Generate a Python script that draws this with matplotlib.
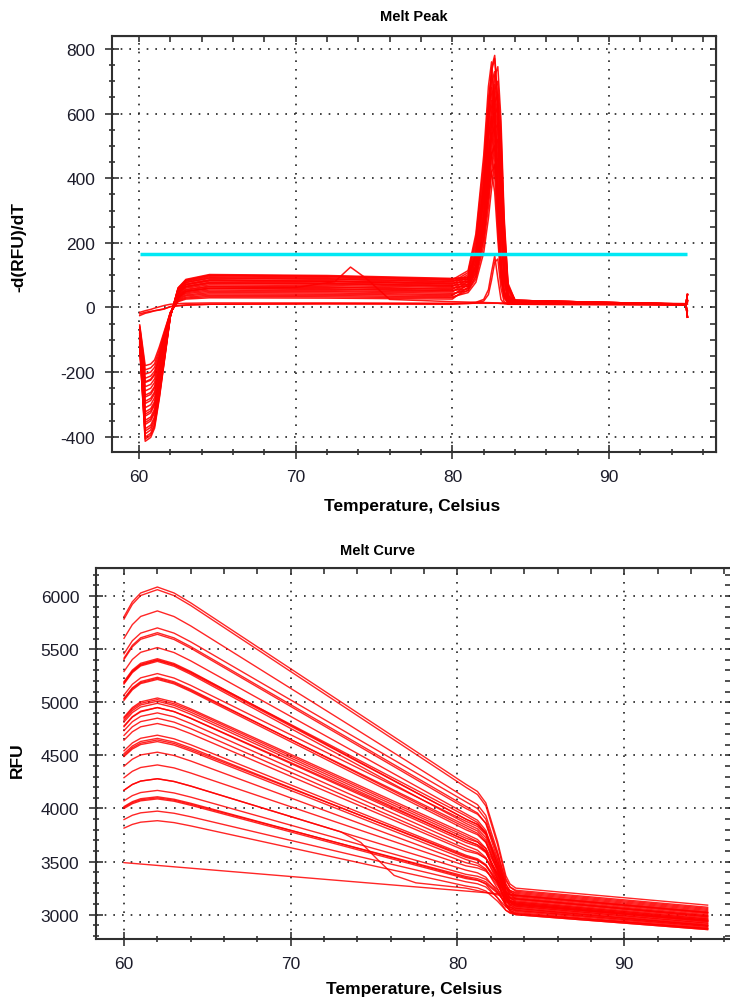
import matplotlib
matplotlib.use("Agg")
import matplotlib.pyplot as plt
from matplotlib.ticker import MultipleLocator

plt.rcParams['font.family'] = ['Liberation Sans', 'DejaVu Sans']
plt.rcParams['axes.unicode_minus'] = False

# Melt peak: -d(RFU)/dT for each well, sampled at these temperatures
peak_temps = [60.05, 60.4, 60.75, 61.0, 61.3, 61.6, 62.0, 62.5, 63.0, 64.5, 72.0, 80.0,
              81.0, 81.5, 82.0, 82.3, 82.5, 82.7, 82.9, 83.1, 83.3, 83.55, 84.0, 94.9, 95.0]
peak_wells = [
    [-124, -414, -402, -373, -282, -174, -30, 61, 87, 102, 99, 90, 94, 172, 382, 608, 741, 780, 640, 374, 133, 39, 18, 10, 40],
    [-122, -407, -395, -366, -277, -171, -29, 60, 85, 100, 97, 88, 92, 169, 377, 601, 732, 770, 631, 370, 131, 39, 18, 10, -30],
    [-120, -401, -389, -361, -273, -168, -28, 59, 83, 98, 95, 86, 114, 228, 471, 684, 760, 646, 380, 152, 53, 23, 14, 9, 20],
    [-117, -391, -379, -352, -266, -164, -28, 57, 81, 95, 92, 84, 88, 127, 276, 447, 596, 715, 745, 581, 283, 75, 22, 10, 40],
    [-115, -382, -371, -344, -260, -160, -28, 55, 78, 92, 89, 81, 88, 161, 358, 569, 694, 730, 599, 350, 124, 37, 18, 11, -30],
    [-113, -375, -364, -338, -255, -158, -27, 54, 77, 90, 87, 79, 108, 216, 446, 648, 720, 612, 360, 144, 50, 22, 14, 9, 20],
    [-109, -362, -351, -326, -246, -152, -26, 52, 73, 86, 83, 76, 80, 119, 259, 420, 560, 672, 700, 546, 266, 70, 22, 10, 40],
    [-107, -356, -345, -320, -242, -150, -26, 50, 71, 84, 81, 74, 83, 152, 338, 538, 656, 690, 566, 331, 117, 35, 18, 12, -30],
    [-105, -349, -339, -314, -237, -147, -26, 49, 70, 82, 80, 72, 102, 204, 422, 612, 680, 578, 340, 136, 48, 20, 14, 8, 20],
    [-101, -336, -326, -302, -228, -141, -24, 47, 66, 78, 76, 69, 72, 112, 244, 396, 528, 634, 660, 515, 251, 66, 22, 10, 40],
    [-99, -330, -320, -297, -224, -139, -25, 46, 65, 76, 74, 67, 78, 143, 319, 507, 618, 650, 533, 312, 111, 33, 18, 11, -30],
    [-97, -323, -313, -291, -220, -136, -24, 44, 63, 74, 72, 65, 96, 192, 397, 576, 640, 544, 320, 128, 45, 19, 14, 9, 20],
    [-93, -310, -301, -279, -211, -130, -23, 42, 60, 70, 68, 62, 66, 105, 229, 372, 496, 595, 620, 484, 236, 62, 22, 10, 40],
    [-89, -297, -288, -267, -202, -125, -23, 40, 56, 66, 64, 58, 72, 132, 294, 468, 570, 600, 492, 288, 102, 30, 18, 11, -30],
    [-87, -290, -281, -261, -197, -122, -22, 38, 54, 64, 62, 56, 89, 177, 366, 531, 590, 502, 295, 118, 41, 18, 14, 9, 20],
    [-83, -277, -269, -249, -188, -116, -21, 36, 51, 60, 58, 53, 57, 97, 211, 342, 456, 547, 570, 445, 217, 57, 22, 10, 40],
    [-81, -271, -263, -244, -184, -114, -21, 35, 49, 58, 56, 51, 67, 123, 274, 437, 532, 560, 459, 269, 95, 28, 18, 11, -30],
    [-77, -258, -250, -232, -175, -108, -20, 32, 46, 54, 52, 48, 81, 162, 335, 486, 540, 459, 270, 108, 38, 16, 14, 9, 20],
    [-74, -245, -238, -221, -167, -103, -19, 30, 43, 50, 49, 44, 52, 88, 192, 312, 416, 499, 520, 406, 198, 52, 22, 10, 40],
    [-70, -232, -225, -209, -158, -97, -19, 28, 39, 46, 45, 40, 60, 110, 245, 390, 475, 500, 410, 240, 85, 25, 18, 11, -30],
    [-66, -219, -212, -197, -149, -92, -18, 25, 36, 42, 41, 37, 72, 144, 298, 432, 480, 408, 240, 96, 34, 14, 14, 9, 20],
    [-62, -206, -200, -185, -140, -87, -17, 23, 32, 38, 37, 33, 46, 78, 170, 276, 368, 442, 460, 359, 175, 46, 22, 10, 40],
    [-58, -193, -187, -174, -131, -81, -16, 20, 29, 34, 33, 30, 53, 97, 216, 343, 418, 440, 361, 211, 75, 22, 18, 11, -30],
    [-54, -180, -175, -162, -122, -76, -16, 18, 26, 30, 29, 26, 63, 126, 260, 378, 420, 357, 210, 84, 29, 13, 14, 9, 20],
    [-20, -15, -12, -10, -8, -5, 3, 6, 8, 10, 12, 12, 14, 16, 25, 55, 110, 160, 90, 25, 12, 10, 10, 8, 15],
    [-25, -18, -14, -10, -7, -4, 2, 5, 7, 10, 11, 10, 12, 14, 20, 40, 85, 140, 150, 60, 18, 10, 10, 8, -10],
    [-15, -10, -6, -2, 2, 6, 10, 12, 13, 14, 14, 13, 13, 13, 13, 13, 13, 13, 13, 12, 12, 12, 11, 10, 25],
]
# well that melts early (bump near 73.5 C)
peak_early_temps = [60.05, 60.4, 60.75, 61.0, 61.3, 61.6, 62.0, 62.5, 63.0, 64.5, 70.0,
                    72.5, 73.5, 74.5, 76.0, 80.0, 83.0, 95.0]
peak_early = [-80, -230, -222, -205, -155, -95, -15, 30, 50, 60, 62, 80, 125, 90, 25, 18, 14, 10]
threshold = 165

# Melt curve: RFU for each well
curve_temps = [60, 60.5, 61, 62, 63, 64, 80.5, 81.2, 81.7, 82.4, 82.9, 83.15, 83.5, 95]
curve_wells = [
    [5806, 5946, 6029, 6085, 6029, 5936, 4228, 4160, 4052, 3690, 3367, 3289, 3250, 3090],
    [5783, 5922, 6005, 6060, 6004, 5911, 4200, 4131, 4024, 3661, 3338, 3259, 3220, 3060],
    [5602, 5731, 5808, 5860, 5807, 5719, 4100, 4036, 3934, 3594, 3290, 3217, 3180, 3020],
    [5457, 5579, 5651, 5700, 5651, 5569, 4063, 3999, 3899, 3561, 3260, 3187, 3150, 2990],
    [5416, 5536, 5607, 5655, 5606, 5524, 4020, 3957, 3858, 3525, 3228, 3156, 3120, 2960],
    [5403, 5522, 5593, 5640, 5591, 5509, 4000, 3946, 3861, 3576, 3322, 3261, 3230, 3070],
    [5290, 5403, 5470, 5515, 5468, 5390, 3950, 3889, 3793, 3471, 3184, 3115, 3080, 2920],
    [5195, 5303, 5367, 5410, 5365, 5290, 3900, 3851, 3774, 3515, 3284, 3228, 3200, 3040],
    [5186, 5293, 5357, 5400, 5356, 5283, 3930, 3868, 3770, 3440, 3147, 3076, 3040, 2890],
    [5172, 5279, 5342, 5385, 5339, 5263, 3860, 3808, 3725, 3447, 3200, 3140, 3110, 2950],
    [5068, 5169, 5230, 5270, 5228, 5159, 3880, 3830, 3752, 3489, 3255, 3198, 3170, 3010],
    [5036, 5136, 5195, 5235, 5193, 5122, 3820, 3767, 3683, 3402, 3151, 3090, 3060, 2900],
    [5018, 5117, 5176, 5215, 5173, 5102, 3800, 3753, 3679, 3431, 3210, 3157, 3130, 2970],
    [4860, 4950, 5004, 5040, 5002, 4938, 3760, 3708, 3625, 3347, 3100, 3040, 3010, 2870],
    [4833, 4922, 4975, 5010, 4971, 4907, 3720, 3683, 3625, 3428, 3254, 3211, 3190, 3030],
    [4815, 4903, 4955, 4990, 4951, 4887, 3700, 3657, 3590, 3364, 3163, 3114, 3090, 2930],
    [4778, 4864, 4916, 4950, 4912, 4848, 3680, 3643, 3585, 3388, 3214, 3171, 3150, 2990],
    [4733, 4817, 4867, 4900, 4863, 4800, 3650, 3607, 3538, 3309, 3104, 3055, 3030, 2880],
    [4688, 4769, 4818, 4850, 4813, 4752, 3620, 3584, 3528, 3339, 3171, 3130, 3110, 2950],
    [4643, 4722, 4769, 4800, 4764, 4704, 3600, 3573, 3530, 3385, 3257, 3226, 3210, 3050],
    [4543, 4617, 4661, 4690, 4656, 4600, 3560, 3526, 3472, 3290, 3129, 3090, 3070, 2910],
    [4516, 4588, 4631, 4660, 4626, 4570, 3540, 3512, 3468, 3320, 3188, 3156, 3140, 2980],
    [4489, 4560, 4602, 4630, 4597, 4541, 3520, 3485, 3430, 3245, 3080, 3040, 3020, 2870],
    [4398, 4464, 4504, 4530, 4499, 4447, 3490, 3463, 3420, 3275, 3147, 3116, 3100, 2940],
    [4290, 4350, 4386, 4410, 4382, 4334, 3460, 3440, 3410, 3306, 3214, 3191, 3180, 3020],
    [4172, 4226, 4258, 4280, 4254, 4211, 3420, 3394, 3353, 3216, 3094, 3065, 3050, 2900],
    [4072, 4121, 4150, 4170, 4146, 4107, 3380, 3362, 3333, 3237, 3151, 3130, 3120, 2960],
    [4018, 4064, 4092, 4110, 4087, 4049, 3350, 3326, 3287, 3157, 3042, 3014, 3000, 2860],
    [4000, 4045, 4072, 4090, 4068, 4030, 3340, 3323, 3295, 3202, 3120, 3100, 3090, 2940],
    [3896, 3936, 3959, 3975, 3955, 3922, 3310, 3291, 3261, 3161, 3072, 3051, 3040, 2890],
    [3815, 3850, 3871, 3885, 3867, 3836, 3270, 3252, 3223, 3127, 3041, 3020, 3010, 2870],
    [4850, 4938, 4990, 5025, 4986, 4925, 3740, 3688, 3600, 3330, 3090, 3030, 3000, 2860],
    [5030, 5128, 5185, 5225, 5183, 5112, 3840, 3788, 3700, 3420, 3180, 3130, 3100, 2940],
    [5180, 5288, 5350, 5395, 5350, 5275, 3900, 3848, 3760, 3480, 3230, 3190, 3160, 3000],
    [4500, 4573, 4615, 4645, 4612, 4555, 3550, 3517, 3460, 3300, 3150, 3099, 3080, 2920],
    [4010, 4055, 4082, 4100, 4078, 4040, 3360, 3339, 3310, 3210, 3100, 3072, 3060, 2900],
    [4770, 4860, 4910, 4950, 4912, 4850, 3700, 3658, 3600, 3380, 3170, 3124, 3100, 2940],
]
curve_early_temps = [60, 60.5, 61, 62, 63, 64, 73, 74.2, 75.2, 76.2, 77.5, 80.5, 83.5, 95]
curve_early = [4172, 4226, 4258, 4280, 4254, 4211, 3780, 3680, 3520, 3370, 3300, 3250, 3150, 2980]
# no-template control, straight decline
ntc_temps = [60, 83, 95]
ntc_rfu = [3490, 3190, 3020]

RED = '#ff0000'
INK = '#1c1c2a'


def style_axes(ax, xlim, ylim, ymajor, yminor):
    ax.set_xlim(*xlim)
    ax.set_ylim(*ylim)
    ax.xaxis.set_major_locator(MultipleLocator(10))
    ax.xaxis.set_minor_locator(MultipleLocator(2))
    ax.yaxis.set_major_locator(MultipleLocator(ymajor))
    ax.yaxis.set_minor_locator(MultipleLocator(yminor))
    ax.tick_params(which='major', direction='inout', length=10, width=1.1,
                   labelsize=12.5, labelcolor=INK, color='#222222', pad=7)
    ax.tick_params(which='minor', direction='inout', length=5, width=1.1, color='#222222')
    for s in ax.spines.values():
        s.set_linewidth(1.5)
        s.set_color('#303030')
    ax.grid(True, which='major', color='#222222', linestyle=(0, (1, 4.2)), linewidth=1.2)
    ax.set_axisbelow(True)
    # small inward ticks on the top and right frame
    top = ax.secondary_xaxis('top')
    top.xaxis.set_major_locator(MultipleLocator(2))
    top.tick_params(direction='in', length=4, width=1.1, labeltop=False, color='#222222')
    right = ax.secondary_yaxis('right')
    right.yaxis.set_major_locator(MultipleLocator(yminor))
    right.tick_params(direction='in', length=4, width=1.1, labelright=False, color='#222222')


fig = plt.figure(figsize=(7.3, 10.03), dpi=100)

# Melt Peak
ax1 = fig.add_axes([0.1534, 0.5484, 0.8274, 0.4147])
style_axes(ax1, (58.28, 96.82), (-447, 840), 200, 50)
for row in peak_wells:
    ax1.plot(peak_temps, row, color=RED, lw=1.1, alpha=0.9, zorder=3)
ax1.plot(peak_early_temps, peak_early, color=RED, lw=1.1, alpha=0.9, zorder=3)
ax1.hlines(threshold, 60.05, 95.0, color='#00e8f4', lw=2.5, zorder=4)

# Melt Curve
ax2 = fig.add_axes([0.1315, 0.0628, 0.8705, 0.3699])
style_axes(ax2, (58.32, 96.43), (2771, 6264), 500, 100)
for row in curve_wells:
    ax2.plot(curve_temps, row, color=RED, lw=1.0, alpha=0.85, zorder=3)
ax2.plot(curve_early_temps, curve_early, color=RED, lw=1.0, alpha=0.85, zorder=3)
ax2.plot(ntc_temps, ntc_rfu, color=RED, lw=1.0, alpha=0.85, zorder=3)

fig.text(414 / 730, 1 - 17 / 1003, 'Melt Peak', ha='center', va='center',
         fontsize=10.5, fontweight='bold', color='black')
fig.text(378 / 730, 1 - 551 / 1003, 'Melt Curve', ha='center', va='center',
         fontsize=10.5, fontweight='bold', color='black')
fig.text(412 / 730, 1 - 506 / 1003, 'Temperature, Celsius', ha='center', va='center',
         fontsize=12.5, fontweight='bold', color='black')
fig.text(414 / 730, 1 - 990 / 1003, 'Temperature, Celsius', ha='center', va='center',
         fontsize=12.5, fontweight='bold', color='black')
fig.text(19 / 730, 1 - 247 / 1003, '-d(RFU)/dT', ha='center', va='center', rotation=90,
         fontsize=12.5, fontweight='bold', color='black')
fig.text(17 / 730, 1 - 760 / 1003, 'RFU', ha='center', va='center', rotation=90,
         fontsize=12.5, fontweight='bold', color='black')

fig.savefig('out.png', dpi=100, facecolor='white')
